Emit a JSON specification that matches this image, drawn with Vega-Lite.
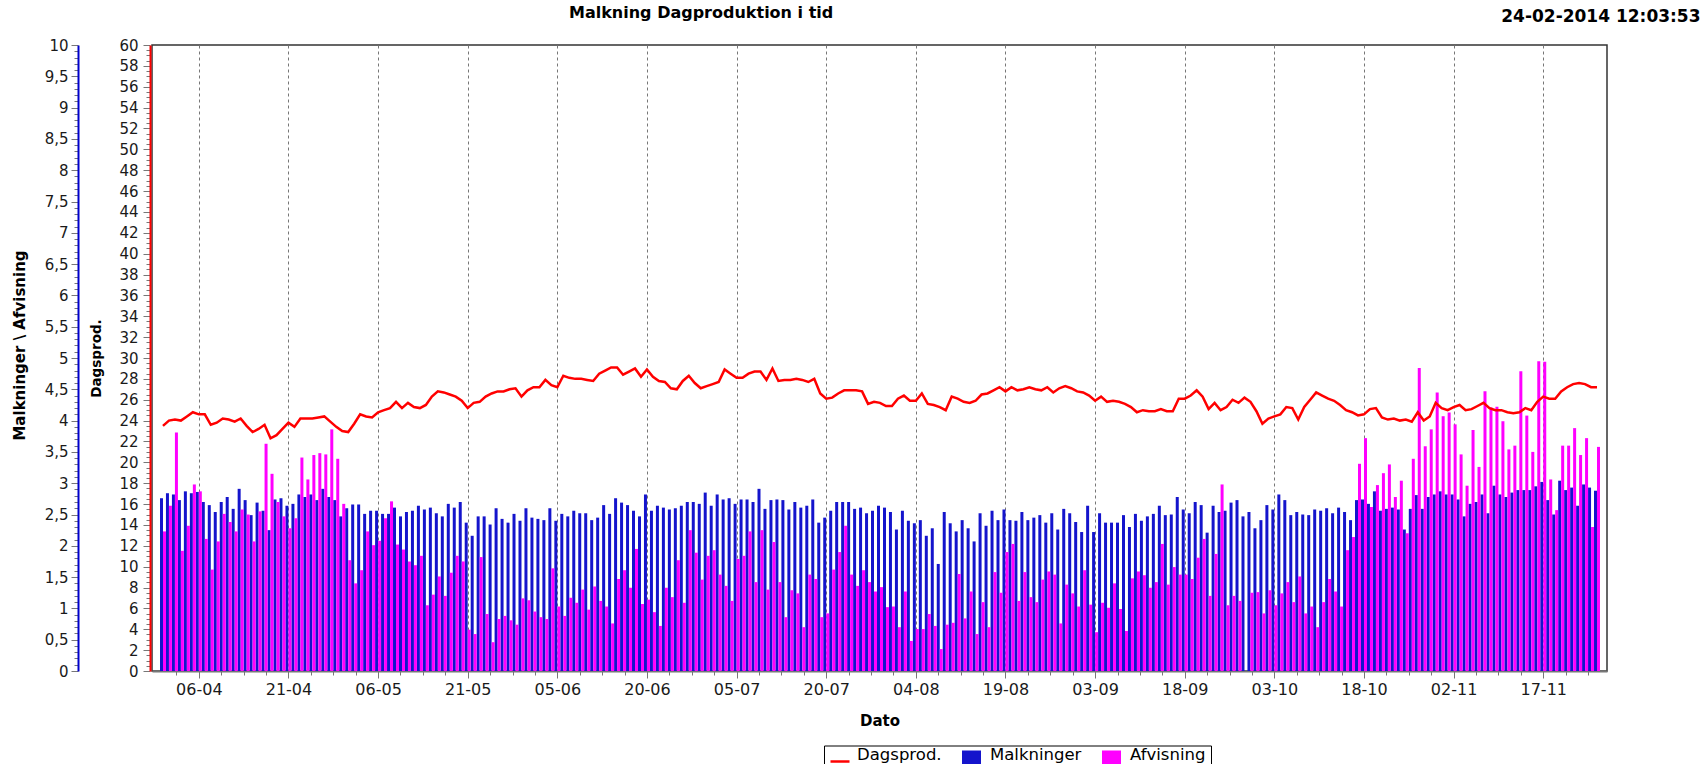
{
 "$schema": "https://vega.github.io/schema/vega-lite/v6.json",
 "width": 1455,
 "height": 626,
 "autosize": {"type": "none"},
 "padding": {"left": 152, "top": 45, "right": 99, "bottom": 93},
 "background": "white",
 "config": {
  "font": "DejaVu Sans",
  "view": {"stroke": "#333", "strokeWidth": 1.5},
  "axis": {"labelFont": "DejaVu Sans", "titleFont": "DejaVu Sans", "labelColor": "#1a1a1a", "titleColor": "#000"}
 },
 "title": {"text": "Malkning Dagproduktion i tid", "anchor": "start", "frame": "group", "dx": 417, "offset": -14, "font": "DejaVu Sans", "fontSize": 16, "fontWeight": "bold", "color": "#000"},
 "data": {"values": [
  {"dato":"2013-03-31","malk":2.76,"afv":2.23,"prod":23.5},
  {"dato":"2013-04-01","malk":2.84,"afv":2.64,"prod":24.0},
  {"dato":"2013-04-02","malk":2.82,"afv":3.81,"prod":24.1},
  {"dato":"2013-04-03","malk":2.73,"afv":1.92,"prod":24.0},
  {"dato":"2013-04-04","malk":2.87,"afv":2.32,"prod":24.4},
  {"dato":"2013-04-05","malk":2.84,"afv":2.98,"prod":24.8},
  {"dato":"2013-04-06","malk":2.86,"afv":2.87,"prod":24.6},
  {"dato":"2013-04-07","malk":2.70,"afv":2.11,"prod":24.6},
  {"dato":"2013-04-08","malk":2.65,"afv":1.62,"prod":23.6},
  {"dato":"2013-04-09","malk":2.54,"afv":2.07,"prod":23.8},
  {"dato":"2013-04-10","malk":2.70,"afv":2.51,"prod":24.2},
  {"dato":"2013-04-11","malk":2.78,"afv":2.38,"prod":24.1},
  {"dato":"2013-04-12","malk":2.59,"afv":2.23,"prod":23.9},
  {"dato":"2013-04-13","malk":2.91,"afv":2.58,"prod":24.2},
  {"dato":"2013-04-14","malk":2.73,"afv":2.50,"prod":23.5},
  {"dato":"2013-04-15","malk":2.49,"afv":2.07,"prod":22.9},
  {"dato":"2013-04-16","malk":2.69,"afv":2.55,"prod":23.2},
  {"dato":"2013-04-17","malk":2.56,"afv":3.63,"prod":23.6},
  {"dato":"2013-04-18","malk":2.25,"afv":3.15,"prod":22.3},
  {"dato":"2013-04-19","malk":2.74,"afv":2.70,"prod":22.6},
  {"dato":"2013-04-20","malk":2.76,"afv":2.47,"prod":23.2},
  {"dato":"2013-04-21","malk":2.64,"afv":2.28,"prod":23.8},
  {"dato":"2013-04-22","malk":2.67,"afv":2.44,"prod":23.4},
  {"dato":"2013-04-23","malk":2.82,"afv":3.41,"prod":24.2},
  {"dato":"2013-04-24","malk":2.78,"afv":3.06,"prod":24.2},
  {"dato":"2013-04-25","malk":2.82,"afv":3.45,"prod":24.2},
  {"dato":"2013-04-26","malk":2.73,"afv":3.48,"prod":24.3},
  {"dato":"2013-04-27","malk":2.91,"afv":3.46,"prod":24.4},
  {"dato":"2013-04-28","malk":2.78,"afv":3.86,"prod":23.9},
  {"dato":"2013-04-29","malk":2.73,"afv":3.39,"prod":23.4},
  {"dato":"2013-04-30","malk":2.47,"afv":2.67,"prod":23.0},
  {"dato":"2013-05-01","malk":2.60,"afv":1.77,"prod":22.9},
  {"dato":"2013-05-02","malk":2.66,"afv":1.40,"prod":23.7},
  {"dato":"2013-05-03","malk":2.66,"afv":1.61,"prod":24.6},
  {"dato":"2013-05-04","malk":2.51,"afv":2.23,"prod":24.4},
  {"dato":"2013-05-05","malk":2.56,"afv":2.01,"prod":24.3},
  {"dato":"2013-05-06","malk":2.56,"afv":2.08,"prod":24.8},
  {"dato":"2013-05-07","malk":2.51,"afv":2.44,"prod":25.0},
  {"dato":"2013-05-08","malk":2.51,"afv":2.71,"prod":25.2},
  {"dato":"2013-05-09","malk":2.61,"afv":2.02,"prod":25.8},
  {"dato":"2013-05-10","malk":2.47,"afv":1.94,"prod":25.2},
  {"dato":"2013-05-11","malk":2.54,"afv":1.75,"prod":25.7},
  {"dato":"2013-05-12","malk":2.56,"afv":1.69,"prod":25.3},
  {"dato":"2013-05-13","malk":2.64,"afv":1.84,"prod":25.2},
  {"dato":"2013-05-14","malk":2.58,"afv":1.05,"prod":25.5},
  {"dato":"2013-05-15","malk":2.61,"afv":1.22,"prod":26.3},
  {"dato":"2013-05-16","malk":2.52,"afv":1.51,"prod":26.8},
  {"dato":"2013-05-17","malk":2.47,"afv":1.20,"prod":26.7},
  {"dato":"2013-05-18","malk":2.67,"afv":1.57,"prod":26.5},
  {"dato":"2013-05-19","malk":2.61,"afv":1.84,"prod":26.3},
  {"dato":"2013-05-20","malk":2.70,"afv":1.75,"prod":25.9},
  {"dato":"2013-05-21","malk":2.37,"afv":0.66,"prod":25.2},
  {"dato":"2013-05-22","malk":2.16,"afv":0.59,"prod":25.7},
  {"dato":"2013-05-23","malk":2.47,"afv":1.82,"prod":25.8},
  {"dato":"2013-05-24","malk":2.47,"afv":0.91,"prod":26.3},
  {"dato":"2013-05-25","malk":2.34,"afv":0.46,"prod":26.6},
  {"dato":"2013-05-26","malk":2.60,"afv":0.83,"prod":26.8},
  {"dato":"2013-05-27","malk":2.43,"afv":0.88,"prod":26.8},
  {"dato":"2013-05-28","malk":2.37,"afv":0.81,"prod":27.0},
  {"dato":"2013-05-29","malk":2.51,"afv":0.74,"prod":27.1},
  {"dato":"2013-05-30","malk":2.40,"afv":1.16,"prod":26.3},
  {"dato":"2013-05-31","malk":2.60,"afv":1.13,"prod":26.9},
  {"dato":"2013-06-01","malk":2.45,"afv":0.95,"prod":27.2},
  {"dato":"2013-06-02","malk":2.43,"afv":0.86,"prod":27.2},
  {"dato":"2013-06-03","malk":2.41,"afv":0.83,"prod":27.9},
  {"dato":"2013-06-04","malk":2.60,"afv":1.64,"prod":27.4},
  {"dato":"2013-06-05","malk":2.40,"afv":1.03,"prod":27.2},
  {"dato":"2013-06-06","malk":2.51,"afv":0.88,"prod":28.3},
  {"dato":"2013-06-07","malk":2.47,"afv":1.17,"prod":28.1},
  {"dato":"2013-06-08","malk":2.56,"afv":1.09,"prod":28.0},
  {"dato":"2013-06-09","malk":2.52,"afv":1.30,"prod":28.0},
  {"dato":"2013-06-10","malk":2.52,"afv":0.98,"prod":27.9},
  {"dato":"2013-06-11","malk":2.41,"afv":1.35,"prod":27.8},
  {"dato":"2013-06-12","malk":2.45,"afv":1.12,"prod":28.5},
  {"dato":"2013-06-13","malk":2.65,"afv":1.03,"prod":28.8},
  {"dato":"2013-06-14","malk":2.51,"afv":0.76,"prod":29.1},
  {"dato":"2013-06-15","malk":2.76,"afv":1.47,"prod":29.1},
  {"dato":"2013-06-16","malk":2.69,"afv":1.61,"prod":28.4},
  {"dato":"2013-06-17","malk":2.65,"afv":1.33,"prod":28.7},
  {"dato":"2013-06-18","malk":2.56,"afv":1.95,"prod":29.0},
  {"dato":"2013-06-19","malk":2.47,"afv":1.07,"prod":28.2},
  {"dato":"2013-06-20","malk":2.82,"afv":1.14,"prod":28.9},
  {"dato":"2013-06-21","malk":2.56,"afv":0.94,"prod":28.2},
  {"dato":"2013-06-22","malk":2.64,"afv":0.72,"prod":27.8},
  {"dato":"2013-06-23","malk":2.61,"afv":1.33,"prod":27.7},
  {"dato":"2013-06-24","malk":2.58,"afv":1.18,"prod":27.1},
  {"dato":"2013-06-25","malk":2.60,"afv":1.77,"prod":27.0},
  {"dato":"2013-06-26","malk":2.64,"afv":1.09,"prod":27.8},
  {"dato":"2013-06-27","malk":2.70,"afv":2.25,"prod":28.3},
  {"dato":"2013-06-28","malk":2.70,"afv":1.89,"prod":27.6},
  {"dato":"2013-06-29","malk":2.67,"afv":1.46,"prod":27.1},
  {"dato":"2013-06-30","malk":2.85,"afv":1.84,"prod":27.3},
  {"dato":"2013-07-01","malk":2.64,"afv":1.93,"prod":27.5},
  {"dato":"2013-07-02","malk":2.82,"afv":1.54,"prod":27.7},
  {"dato":"2013-07-03","malk":2.74,"afv":1.36,"prod":28.9},
  {"dato":"2013-07-04","malk":2.76,"afv":1.12,"prod":28.5},
  {"dato":"2013-07-05","malk":2.67,"afv":1.79,"prod":28.1},
  {"dato":"2013-07-06","malk":2.74,"afv":1.84,"prod":28.1},
  {"dato":"2013-07-07","malk":2.74,"afv":2.23,"prod":28.5},
  {"dato":"2013-07-08","malk":2.70,"afv":1.42,"prod":28.7},
  {"dato":"2013-07-09","malk":2.91,"afv":2.25,"prod":28.7},
  {"dato":"2013-07-10","malk":2.59,"afv":1.30,"prod":27.9},
  {"dato":"2013-07-11","malk":2.73,"afv":2.06,"prod":29.0},
  {"dato":"2013-07-12","malk":2.74,"afv":1.42,"prod":27.8},
  {"dato":"2013-07-13","malk":2.73,"afv":0.86,"prod":27.9},
  {"dato":"2013-07-14","malk":2.58,"afv":1.29,"prod":27.9},
  {"dato":"2013-07-15","malk":2.70,"afv":1.24,"prod":28.0},
  {"dato":"2013-07-16","malk":2.61,"afv":0.70,"prod":27.9},
  {"dato":"2013-07-17","malk":2.64,"afv":1.54,"prod":27.7},
  {"dato":"2013-07-18","malk":2.74,"afv":1.47,"prod":28.0},
  {"dato":"2013-07-19","malk":2.37,"afv":0.86,"prod":26.6},
  {"dato":"2013-07-20","malk":2.45,"afv":0.92,"prod":26.1},
  {"dato":"2013-07-21","malk":2.56,"afv":1.62,"prod":26.2},
  {"dato":"2013-07-22","malk":2.70,"afv":1.90,"prod":26.6},
  {"dato":"2013-07-23","malk":2.70,"afv":2.32,"prod":26.9},
  {"dato":"2013-07-24","malk":2.70,"afv":1.54,"prod":26.9},
  {"dato":"2013-07-25","malk":2.59,"afv":1.36,"prod":26.9},
  {"dato":"2013-07-26","malk":2.61,"afv":1.61,"prod":26.8},
  {"dato":"2013-07-27","malk":2.52,"afv":1.42,"prod":25.6},
  {"dato":"2013-07-28","malk":2.56,"afv":1.27,"prod":25.8},
  {"dato":"2013-07-29","malk":2.64,"afv":1.34,"prod":25.7},
  {"dato":"2013-07-30","malk":2.61,"afv":1.02,"prod":25.4},
  {"dato":"2013-07-31","malk":2.54,"afv":1.03,"prod":25.4},
  {"dato":"2013-08-01","malk":2.26,"afv":0.70,"prod":26.1},
  {"dato":"2013-08-02","malk":2.56,"afv":1.27,"prod":26.4},
  {"dato":"2013-08-03","malk":2.40,"afv":0.48,"prod":25.9},
  {"dato":"2013-08-04","malk":2.36,"afv":0.67,"prod":25.9},
  {"dato":"2013-08-05","malk":2.41,"afv":0.67,"prod":26.6},
  {"dato":"2013-08-06","malk":2.16,"afv":0.91,"prod":25.6},
  {"dato":"2013-08-07","malk":2.28,"afv":0.72,"prod":25.5},
  {"dato":"2013-08-08","malk":1.71,"afv":0.35,"prod":25.3},
  {"dato":"2013-08-09","malk":2.54,"afv":0.74,"prod":25.0},
  {"dato":"2013-08-10","malk":2.36,"afv":0.77,"prod":26.3},
  {"dato":"2013-08-11","malk":2.23,"afv":1.55,"prod":26.1},
  {"dato":"2013-08-12","malk":2.41,"afv":0.84,"prod":25.8},
  {"dato":"2013-08-13","malk":2.28,"afv":1.27,"prod":25.7},
  {"dato":"2013-08-14","malk":2.07,"afv":0.59,"prod":25.9},
  {"dato":"2013-08-15","malk":2.52,"afv":1.10,"prod":26.5},
  {"dato":"2013-08-16","malk":2.32,"afv":0.70,"prod":26.6},
  {"dato":"2013-08-17","malk":2.56,"afv":1.58,"prod":26.9},
  {"dato":"2013-08-18","malk":2.41,"afv":1.25,"prod":27.2},
  {"dato":"2013-08-19","malk":2.58,"afv":1.90,"prod":26.8},
  {"dato":"2013-08-20","malk":2.41,"afv":2.03,"prod":27.2},
  {"dato":"2013-08-21","malk":2.40,"afv":1.12,"prod":26.9},
  {"dato":"2013-08-22","malk":2.54,"afv":1.58,"prod":27.0},
  {"dato":"2013-08-23","malk":2.41,"afv":1.18,"prod":27.2},
  {"dato":"2013-08-24","malk":2.45,"afv":1.10,"prod":27.0},
  {"dato":"2013-08-25","malk":2.49,"afv":1.46,"prod":26.9},
  {"dato":"2013-08-26","malk":2.37,"afv":1.59,"prod":27.2},
  {"dato":"2013-08-27","malk":2.52,"afv":1.54,"prod":26.7},
  {"dato":"2013-08-28","malk":2.26,"afv":0.76,"prod":27.1},
  {"dato":"2013-08-29","malk":2.59,"afv":1.38,"prod":27.3},
  {"dato":"2013-08-30","malk":2.52,"afv":1.24,"prod":27.1},
  {"dato":"2013-08-31","malk":2.38,"afv":1.03,"prod":26.8},
  {"dato":"2013-09-01","malk":2.22,"afv":1.61,"prod":26.7},
  {"dato":"2013-09-02","malk":2.64,"afv":1.06,"prod":26.4},
  {"dato":"2013-09-03","malk":2.22,"afv":0.62,"prod":25.9},
  {"dato":"2013-09-04","malk":2.52,"afv":1.09,"prod":26.3},
  {"dato":"2013-09-05","malk":2.37,"afv":1.01,"prod":25.8},
  {"dato":"2013-09-06","malk":2.37,"afv":1.40,"prod":25.9},
  {"dato":"2013-09-07","malk":2.37,"afv":0.99,"prod":25.8},
  {"dato":"2013-09-08","malk":2.49,"afv":0.64,"prod":25.6},
  {"dato":"2013-09-09","malk":2.30,"afv":1.48,"prod":25.3},
  {"dato":"2013-09-10","malk":2.51,"afv":1.59,"prod":24.8},
  {"dato":"2013-09-11","malk":2.40,"afv":1.53,"prod":25.0},
  {"dato":"2013-09-12","malk":2.47,"afv":1.33,"prod":24.9},
  {"dato":"2013-09-13","malk":2.51,"afv":1.42,"prod":24.9},
  {"dato":"2013-09-14","malk":2.64,"afv":2.03,"prod":25.1},
  {"dato":"2013-09-15","malk":2.49,"afv":1.38,"prod":24.9},
  {"dato":"2013-09-16","malk":2.50,"afv":1.66,"prod":24.9},
  {"dato":"2013-09-17","malk":2.78,"afv":1.54,"prod":26.1},
  {"dato":"2013-09-18","malk":2.58,"afv":1.54,"prod":26.1},
  {"dato":"2013-09-19","malk":2.52,"afv":1.47,"prod":26.4},
  {"dato":"2013-09-20","malk":2.70,"afv":1.81,"prod":26.9},
  {"dato":"2013-09-21","malk":2.65,"afv":2.11,"prod":26.3},
  {"dato":"2013-09-22","malk":2.21,"afv":1.20,"prod":25.1},
  {"dato":"2013-09-23","malk":2.64,"afv":1.87,"prod":25.7},
  {"dato":"2013-09-24","malk":2.54,"afv":2.98,"prod":25.0},
  {"dato":"2013-09-25","malk":2.56,"afv":1.05,"prod":25.3},
  {"dato":"2013-09-26","malk":2.69,"afv":1.20,"prod":26.0},
  {"dato":"2013-09-27","malk":2.73,"afv":1.12,"prod":25.7},
  {"dato":"2013-09-28","malk":2.47,"afv":0,"prod":26.2},
  {"dato":"2013-09-29","malk":2.54,"afv":1.25,"prod":25.8},
  {"dato":"2013-09-30","malk":2.28,"afv":1.26,"prod":24.9},
  {"dato":"2013-10-01","malk":2.41,"afv":0.92,"prod":23.7},
  {"dato":"2013-10-02","malk":2.65,"afv":1.29,"prod":24.2},
  {"dato":"2013-10-03","malk":2.58,"afv":1.05,"prod":24.4},
  {"dato":"2013-10-04","malk":2.82,"afv":1.24,"prod":24.6},
  {"dato":"2013-10-05","malk":2.73,"afv":1.42,"prod":25.3},
  {"dato":"2013-10-06","malk":2.49,"afv":1.10,"prod":25.2},
  {"dato":"2013-10-07","malk":2.54,"afv":1.51,"prod":24.1},
  {"dato":"2013-10-08","malk":2.50,"afv":0.92,"prod":25.3},
  {"dato":"2013-10-09","malk":2.49,"afv":1.03,"prod":26.0},
  {"dato":"2013-10-10","malk":2.58,"afv":0.70,"prod":26.7},
  {"dato":"2013-10-11","malk":2.56,"afv":1.10,"prod":26.4},
  {"dato":"2013-10-12","malk":2.60,"afv":1.47,"prod":26.1},
  {"dato":"2013-10-13","malk":2.52,"afv":1.27,"prod":25.9},
  {"dato":"2013-10-14","malk":2.61,"afv":1.03,"prod":25.5},
  {"dato":"2013-10-15","malk":2.54,"afv":1.93,"prod":25.0},
  {"dato":"2013-10-16","malk":2.41,"afv":2.14,"prod":24.8},
  {"dato":"2013-10-17","malk":2.73,"afv":3.31,"prod":24.5},
  {"dato":"2013-10-18","malk":2.74,"afv":3.72,"prod":24.6},
  {"dato":"2013-10-19","malk":2.67,"afv":2.62,"prod":25.1},
  {"dato":"2013-10-20","malk":2.87,"afv":2.97,"prod":25.2},
  {"dato":"2013-10-21","malk":2.56,"afv":3.16,"prod":24.3},
  {"dato":"2013-10-22","malk":2.59,"afv":3.30,"prod":24.1},
  {"dato":"2013-10-23","malk":2.61,"afv":2.78,"prod":24.2},
  {"dato":"2013-10-24","malk":2.58,"afv":3.04,"prod":24.0},
  {"dato":"2013-10-25","malk":2.26,"afv":2.20,"prod":24.1},
  {"dato":"2013-10-26","malk":2.59,"afv":3.39,"prod":23.9},
  {"dato":"2013-10-27","malk":2.81,"afv":4.84,"prod":24.8},
  {"dato":"2013-10-28","malk":2.59,"afv":3.59,"prod":24.0},
  {"dato":"2013-10-29","malk":2.78,"afv":3.86,"prod":24.4},
  {"dato":"2013-10-30","malk":2.82,"afv":4.45,"prod":25.7},
  {"dato":"2013-10-31","malk":2.87,"afv":4.07,"prod":25.2},
  {"dato":"2013-11-01","malk":2.82,"afv":4.13,"prod":25.0},
  {"dato":"2013-11-02","malk":2.82,"afv":3.94,"prod":25.3},
  {"dato":"2013-11-03","malk":2.74,"afv":3.46,"prod":25.5},
  {"dato":"2013-11-04","malk":2.47,"afv":2.96,"prod":25.0},
  {"dato":"2013-11-05","malk":2.67,"afv":3.85,"prod":25.1},
  {"dato":"2013-11-06","malk":2.70,"afv":3.26,"prod":25.4},
  {"dato":"2013-11-07","malk":2.82,"afv":4.47,"prod":25.7},
  {"dato":"2013-11-08","malk":2.52,"afv":4.21,"prod":25.2},
  {"dato":"2013-11-09","malk":2.96,"afv":4.22,"prod":25.0},
  {"dato":"2013-11-10","malk":2.82,"afv":3.99,"prod":25.0},
  {"dato":"2013-11-11","malk":2.78,"afv":3.54,"prod":24.8},
  {"dato":"2013-11-12","malk":2.85,"afv":3.60,"prod":24.7},
  {"dato":"2013-11-13","malk":2.89,"afv":4.79,"prod":24.8},
  {"dato":"2013-11-14","malk":2.89,"afv":4.08,"prod":25.2},
  {"dato":"2013-11-15","malk":2.89,"afv":3.50,"prod":25.0},
  {"dato":"2013-11-16","malk":2.95,"afv":4.95,"prod":25.8},
  {"dato":"2013-11-17","malk":3.02,"afv":4.94,"prod":26.3},
  {"dato":"2013-11-18","malk":2.73,"afv":3.06,"prod":26.1},
  {"dato":"2013-11-19","malk":2.50,"afv":2.57,"prod":26.1},
  {"dato":"2013-11-20","malk":3.04,"afv":3.60,"prod":26.8},
  {"dato":"2013-11-21","malk":2.89,"afv":3.60,"prod":27.2},
  {"dato":"2013-11-22","malk":2.93,"afv":3.88,"prod":27.5},
  {"dato":"2013-11-23","malk":2.64,"afv":3.45,"prod":27.6},
  {"dato":"2013-11-24","malk":2.98,"afv":3.72,"prod":27.5},
  {"dato":"2013-11-25","malk":2.93,"afv":2.30,"prod":27.2},
  {"dato":"2013-11-26","malk":2.88,"afv":3.58,"prod":27.2}
 ]},
 "layer": [
  {
   "encoding": {
    "x": {"field": "dato", "type": "temporal",
     "scale": {"type": "utc", "domain": [{"year": 2013, "month": 3, "date": 30, "utc": true}, {"year": 2013, "month": 11, "date": 26, "hours": 20, "utc": true}]},
     "axis": {"orient": "bottom", "title": "Dato", "titleFontWeight": "bold", "titleFontSize": 15, "titleY": 49, "titleBaseline": "middle",
      "values": [
       {"year":2013,"month":4,"date":2,"hours":6,"utc":true},
       {"year":2013,"month":4,"date":6,"utc":true},
       {"year":2013,"month":4,"date":9,"hours":18,"utc":true},
       {"year":2013,"month":4,"date":13,"hours":12,"utc":true},
       {"year":2013,"month":4,"date":17,"hours":6,"utc":true},
       {"year":2013,"month":4,"date":21,"utc":true},
       {"year":2013,"month":4,"date":24,"hours":18,"utc":true},
       {"year":2013,"month":4,"date":28,"hours":12,"utc":true},
       {"year":2013,"month":5,"date":2,"hours":6,"utc":true},
       {"year":2013,"month":5,"date":6,"utc":true},
       {"year":2013,"month":5,"date":9,"hours":18,"utc":true},
       {"year":2013,"month":5,"date":13,"hours":12,"utc":true},
       {"year":2013,"month":5,"date":17,"hours":6,"utc":true},
       {"year":2013,"month":5,"date":21,"utc":true},
       {"year":2013,"month":5,"date":24,"hours":18,"utc":true},
       {"year":2013,"month":5,"date":28,"hours":12,"utc":true},
       {"year":2013,"month":6,"date":1,"hours":6,"utc":true},
       {"year":2013,"month":6,"date":5,"utc":true},
       {"year":2013,"month":6,"date":8,"hours":18,"utc":true},
       {"year":2013,"month":6,"date":12,"hours":12,"utc":true},
       {"year":2013,"month":6,"date":16,"hours":6,"utc":true},
       {"year":2013,"month":6,"date":20,"utc":true},
       {"year":2013,"month":6,"date":23,"hours":18,"utc":true},
       {"year":2013,"month":6,"date":27,"hours":12,"utc":true},
       {"year":2013,"month":7,"date":1,"hours":6,"utc":true},
       {"year":2013,"month":7,"date":5,"utc":true},
       {"year":2013,"month":7,"date":8,"hours":18,"utc":true},
       {"year":2013,"month":7,"date":12,"hours":12,"utc":true},
       {"year":2013,"month":7,"date":16,"hours":6,"utc":true},
       {"year":2013,"month":7,"date":20,"utc":true},
       {"year":2013,"month":7,"date":23,"hours":18,"utc":true},
       {"year":2013,"month":7,"date":27,"hours":12,"utc":true},
       {"year":2013,"month":7,"date":31,"hours":6,"utc":true},
       {"year":2013,"month":8,"date":4,"utc":true},
       {"year":2013,"month":8,"date":7,"hours":18,"utc":true},
       {"year":2013,"month":8,"date":11,"hours":12,"utc":true},
       {"year":2013,"month":8,"date":15,"hours":6,"utc":true},
       {"year":2013,"month":8,"date":19,"utc":true},
       {"year":2013,"month":8,"date":22,"hours":18,"utc":true},
       {"year":2013,"month":8,"date":26,"hours":12,"utc":true},
       {"year":2013,"month":8,"date":30,"hours":6,"utc":true},
       {"year":2013,"month":9,"date":3,"utc":true},
       {"year":2013,"month":9,"date":6,"hours":18,"utc":true},
       {"year":2013,"month":9,"date":10,"hours":12,"utc":true},
       {"year":2013,"month":9,"date":14,"hours":6,"utc":true},
       {"year":2013,"month":9,"date":18,"utc":true},
       {"year":2013,"month":9,"date":21,"hours":18,"utc":true},
       {"year":2013,"month":9,"date":25,"hours":12,"utc":true},
       {"year":2013,"month":9,"date":29,"hours":6,"utc":true},
       {"year":2013,"month":10,"date":3,"utc":true},
       {"year":2013,"month":10,"date":6,"hours":18,"utc":true},
       {"year":2013,"month":10,"date":10,"hours":12,"utc":true},
       {"year":2013,"month":10,"date":14,"hours":6,"utc":true},
       {"year":2013,"month":10,"date":18,"utc":true},
       {"year":2013,"month":10,"date":21,"hours":18,"utc":true},
       {"year":2013,"month":10,"date":25,"hours":12,"utc":true},
       {"year":2013,"month":10,"date":29,"hours":6,"utc":true},
       {"year":2013,"month":11,"date":2,"utc":true},
       {"year":2013,"month":11,"date":5,"hours":18,"utc":true},
       {"year":2013,"month":11,"date":9,"hours":12,"utc":true},
       {"year":2013,"month":11,"date":13,"hours":6,"utc":true},
       {"year":2013,"month":11,"date":17,"utc":true},
       {"year":2013,"month":11,"date":20,"hours":18,"utc":true},
       {"year":2013,"month":11,"date":24,"hours":12,"utc":true}
      ],
      "labelExpr": "utchours(datum.value) == 0 ? utcFormat(datum.value, '%d-%m') : ''",
      "labelFontSize": 16, "labelPadding": 3, "labelOverlap": false, "labelFlush": false,
      "tickColor": "#777", "tickSize": {"condition": {"test": "utchours(datum.value) == 0", "value": 7}, "value": 4},
      "domainColor": "#777", "domainWidth": 2,
      "grid": true, "gridDash": [3, 3], "gridColor": "#777", "gridWidth": 1,
      "gridOpacity": {"condition": {"test": "utchours(datum.value) == 0", "value": 1}, "value": 0}
     }
    }
   },
   "layer": [
    {
     "mark": {"type": "bar", "width": 3, "xOffset": -1.5},
     "encoding": {
      "y": {"field": "malk", "type": "quantitative", "title": "Malkninger \\ Afvisning",
       "scale": {"domain": [0, 10], "nice": false},
       "axis": {"orient": "left", "offset": 74,
        "values": [0,0.1,0.2,0.3,0.4,0.5,0.6,0.7,0.8,0.9,1,1.1,1.2,1.3,1.4,1.5,1.6,1.7,1.8,1.9,2,2.1,2.2,2.3,2.4,2.5,2.6,2.7,2.8,2.9,3,3.1,3.2,3.3,3.4,3.5,3.6,3.7,3.8,3.9,4,4.1,4.2,4.3,4.4,4.5,4.6,4.7,4.8,4.9,5,5.1,5.2,5.3,5.4,5.5,5.6,5.7,5.8,5.9,6,6.1,6.2,6.3,6.4,6.5,6.6,6.7,6.8,6.9,7,7.1,7.2,7.3,7.4,7.5,7.6,7.7,7.8,7.9,8,8.1,8.2,8.3,8.4,8.5,8.6,8.7,8.8,8.9,9,9.1,9.2,9.3,9.4,9.5,9.6,9.7,9.8,9.9,10],
        "labelExpr": "round(datum.value*10) % 5 == 0 ? replace(format(datum.value, '.1~f'), '.', ',') : ''",
        "labelFontSize": 15, "labelPadding": 3, "labelOverlap": false,
        "tickColor": "#777", "tickSize": {"condition": {"test": "round(datum.value*10) % 5 == 0", "value": 7}, "value": 4},
        "domainColor": "#0000cc", "domainWidth": 2, "grid": false,
        "titleFontSize": 15, "titleFontWeight": "bold", "titleX": -59, "titleY": 300, "titleAngle": -90, "titleAlign": "center", "titleBaseline": "middle"
       }
      },
      "color": {"datum": "Malkninger", "type": "nominal",
       "scale": {"domain": ["Dagsprod.", "Malkninger", "Afvisning"], "range": ["rgba(255,255,255,0)", "#1414cc", "#ff00ff"]},
       "legend": {"orient": "none", "legendX": 672, "legendY": 700.5, "direction": "horizontal", "title": null,
        "symbolSize": 361, "symbolType": "square", "labelFont": "DejaVu Sans", "labelFontSize": 16.5, "labelColor": "#000",
        "labelBaseline": "alphabetic", "labelOffset": 9, "columnPadding": 20, "padding": 5, "strokeColor": "#000", "symbolStrokeWidth": 0
       }
      }
     }
    },
    {
     "mark": {"type": "bar", "width": 3, "xOffset": 1.5},
     "encoding": {
      "y": {"field": "afv", "type": "quantitative", "title": "Malkninger \\ Afvisning",
       "scale": {"domain": [0, 10], "nice": false},
       "axis": {"orient": "left", "offset": 74,
        "values": [0,0.1,0.2,0.3,0.4,0.5,0.6,0.7,0.8,0.9,1,1.1,1.2,1.3,1.4,1.5,1.6,1.7,1.8,1.9,2,2.1,2.2,2.3,2.4,2.5,2.6,2.7,2.8,2.9,3,3.1,3.2,3.3,3.4,3.5,3.6,3.7,3.8,3.9,4,4.1,4.2,4.3,4.4,4.5,4.6,4.7,4.8,4.9,5,5.1,5.2,5.3,5.4,5.5,5.6,5.7,5.8,5.9,6,6.1,6.2,6.3,6.4,6.5,6.6,6.7,6.8,6.9,7,7.1,7.2,7.3,7.4,7.5,7.6,7.7,7.8,7.9,8,8.1,8.2,8.3,8.4,8.5,8.6,8.7,8.8,8.9,9,9.1,9.2,9.3,9.4,9.5,9.6,9.7,9.8,9.9,10],
        "labelExpr": "round(datum.value*10) % 5 == 0 ? replace(format(datum.value, '.1~f'), '.', ',') : ''",
        "labelFontSize": 15, "labelPadding": 3, "labelOverlap": false,
        "tickColor": "#777", "tickSize": {"condition": {"test": "round(datum.value*10) % 5 == 0", "value": 7}, "value": 4},
        "domainColor": "#0000cc", "domainWidth": 2, "grid": false,
        "titleFontSize": 15, "titleFontWeight": "bold", "titleX": -59, "titleY": 300, "titleAngle": -90, "titleAlign": "center", "titleBaseline": "middle"
       }
      },
      "color": {"datum": "Afvisning", "type": "nominal"}
     }
    }
   ]
  },
  {
   "mark": {"type": "line", "strokeWidth": 2.5},
   "encoding": {
    "x": {"field": "dato", "type": "temporal",
     "axis": {"orient": "top", "title": "24-02-2014 12:03:53", "labels": false, "ticks": false, "domain": false, "grid": false,
      "titleX": 1548, "titleY": -29, "titleAlign": "right", "titleBaseline": "middle", "titleAngle": 0,
      "titleFontSize": 17, "titleFontWeight": "bold"}
    },
    "y": {"field": "prod", "type": "quantitative", "title": "Dagsprod.",
     "scale": {"domain": [0, 60], "nice": false},
     "axis": {"orient": "left", "offset": 2,
      "values": [0,0.5,1,1.5,2,2.5,3,3.5,4,4.5,5,5.5,6,6.5,7,7.5,8,8.5,9,9.5,10,10.5,11,11.5,12,12.5,13,13.5,14,14.5,15,15.5,16,16.5,17,17.5,18,18.5,19,19.5,20,20.5,21,21.5,22,22.5,23,23.5,24,24.5,25,25.5,26,26.5,27,27.5,28,28.5,29,29.5,30,30.5,31,31.5,32,32.5,33,33.5,34,34.5,35,35.5,36,36.5,37,37.5,38,38.5,39,39.5,40,40.5,41,41.5,42,42.5,43,43.5,44,44.5,45,45.5,46,46.5,47,47.5,48,48.5,49,49.5,50,50.5,51,51.5,52,52.5,53,53.5,54,54.5,55,55.5,56,56.5,57,57.5,58,58.5,59,59.5,60],
      "labelExpr": "datum.value % 2 == 0 ? format(datum.value, 'd') : ''",
      "labelFontSize": 15, "labelPadding": 5, "labelOverlap": false,
      "tickColor": "#777", "tickSize": {"condition": {"test": "datum.value % 2 == 0", "value": 7}, "value": 4},
      "domainColor": "#ff0000", "domainWidth": 2, "grid": false,
      "titleFontSize": 13.5, "titleFontWeight": "bold", "titleX": -54, "titleAngle": -90, "titleAlign": "center", "titleBaseline": "middle"
     }
    },
    "stroke": {"datum": "Dagsprod.", "type": "nominal",
     "scale": {"domain": ["Dagsprod."], "range": ["#ff0000"]},
     "legend": {"orient": "none", "legendX": 672, "legendY": 700.5, "direction": "horizontal", "title": null,
      "symbolSize": 361, "symbolType": "stroke", "symbolStrokeWidth": 2.5,
      "labelExpr": "''", "labelFontSize": 16.5, "labelOffset": 9, "padding": 5}
    }
   }
  }
 ],
 "resolve": {"scale": {"y": "independent"}, "axis": {"y": "independent", "x": "independent"}}
}
